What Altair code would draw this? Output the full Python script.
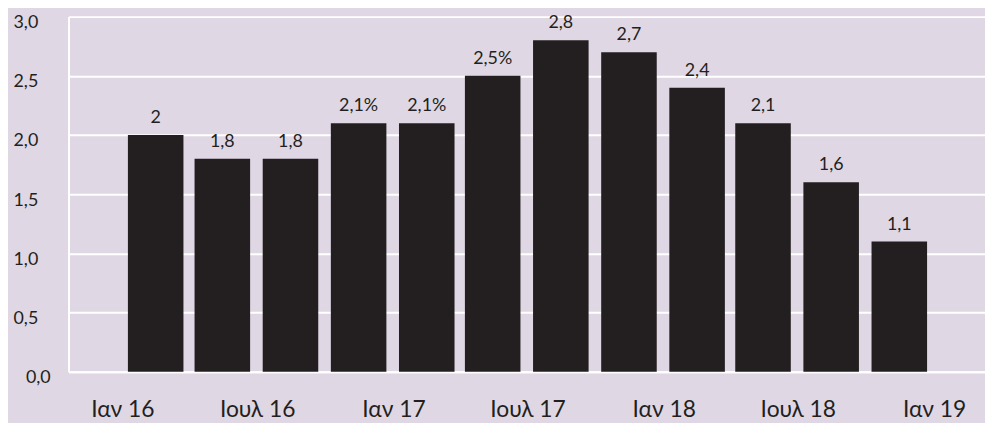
import json
import altair as alt
import pandas as pd

# ---- data ----
bar_dates = ["2016-02-15", "2016-05-15", "2016-08-15", "2016-11-15",
             "2017-02-15", "2017-05-15", "2017-08-15", "2017-11-15",
             "2018-02-15", "2018-05-15", "2018-08-15", "2018-11-15"]
bar_values = [2.0, 1.8, 1.8, 2.1, 2.1, 2.5, 2.8, 2.7, 2.4, 2.1, 1.6, 1.1]
bar_labels = ["2", "1,8", "1,8", "2,1%", "2,1%", "2,5%",
              "2,8", "2,7", "2,4", "2,1", "1,6", "1,1"]
tick_dates = ["2016-01-01", "2016-07-01", "2017-01-01", "2017-07-01",
              "2018-01-01", "2018-07-01", "2019-01-01"]
tick_labels = ["Ιαν 16", "Ιουλ 16", "Ιαν 17", "Ιουλ 17",
               "Ιαν 18", "Ιουλ 18", "Ιαν 19"]
y_ticks = [0, 0.5, 1.0, 1.5, 2.0, 2.5, 3.0]
x_domain = ["2015-10-27", "2019-03-04"]


def ms(d):
    return int(pd.Timestamp(d, tz="UTC").value // 10**6)


df = pd.DataFrame({"date": bar_dates, "value": bar_values, "label": bar_labels})

tick_ms = [ms(d) for d in tick_dates]
x_label_expr = (json.dumps(tick_labels, ensure_ascii=False)
                + "[indexof(" + json.dumps(tick_ms) + ", time(datum.value))]")

BG = "#e0d7e4"
INK = "#231f20"
FONT = "Lato"

x_enc = alt.X(
    "date:T",
    scale=alt.Scale(type="utc", domain=[ms(d) for d in x_domain]),
    axis=alt.Axis(values=tick_ms, labelExpr=x_label_expr, grid=False, ticks=False,
                  domainColor="white", domainWidth=2, labelFont=FONT,
                  labelFontSize=23, labelColor=INK, labelPadding=27,
                  labelFlush=False, title=None),
)
y_enc = alt.Y(
    "value:Q",
    scale=alt.Scale(domain=[0, 3], nice=False),
    axis=alt.Axis(values=y_ticks,
                  labelExpr="replace(format(datum.value, '.1f'), '.', ',')",
                  grid=True, gridColor="white", gridWidth=2,
                  domainColor="white", domainWidth=2, ticks=False,
                  labelFont=FONT, labelFontSize=18, labelColor=INK,
                  labelAlign={"condition": {"test": "datum.value === 0", "value": "center"},
                              "value": "right"},
                  labelPadding=31, labelOffset=6, title=None),
)

bars = alt.Chart(df).mark_bar(size=56, color=INK).encode(x=x_enc, y=y_enc)
texts = alt.Chart(df).mark_text(
    dy=-8, baseline="bottom", fontSize=18, font=FONT, color=INK
).encode(x="date:T", y="value:Q", text="label:N")

chart = (
    alt.layer(bars, texts)
    .properties(
        width=924, height=358,
        background=BG,
        autosize=alt.AutoSizeParams(type="none"),
        padding={"left": 61, "top": 7, "right": 0, "bottom": 50},
    )
    .configure_view(stroke=None)
)

chart.save("out.html", embed_options={"renderer": "svg", "actions": False})
